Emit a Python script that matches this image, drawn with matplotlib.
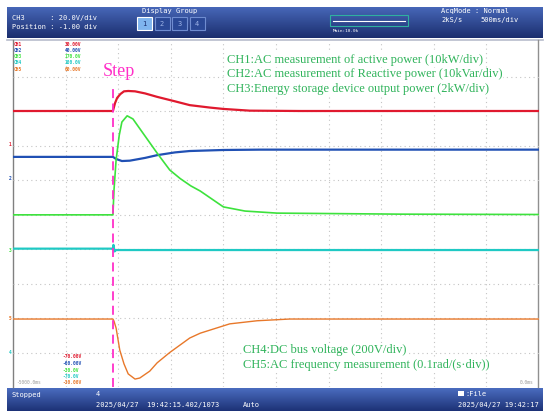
import numpy as np
import matplotlib
matplotlib.use("Agg")
import matplotlib.pyplot as plt
from matplotlib.patches import Rectangle

# time axis: 500 ms/div, 10 div, trigger at right edge
T_MIN, T_MAX = -5000, 0
STEP_T = -4050

# traces, levels in divisions (0 = bottom of screen, 10 = top)
ch1_t = [-5000, -4050, -4030, -4010, -3980, -3945, -3905, -3840, -3745, -3630, -3460, -3320, -3130, -3000, -2750, -2270, 0]
ch1_v = [8.0, 8.0, 8.23, 8.38, 8.49, 8.57, 8.58, 8.57, 8.51, 8.41, 8.28, 8.17, 8.10, 8.06, 8.01, 8.0, 8.0]

ch2_t = [-5000, -4050, -4020, -3965, -3890, -3745, -3630, -3460, -3320, -3000, -2650, 0]
ch2_v = [6.67, 6.67, 6.61, 6.55, 6.56, 6.64, 6.72, 6.80, 6.84, 6.87, 6.88, 6.88]

ch3_t = [-5000, -4050, -4040, -4020, -3990, -3965, -3915, -3860, -3765, -3630, -3510, -3410, -3310, -3220, -3000, -2795, -2490, -1320, 0]
ch3_v = [4.99, 4.99, 5.71, 6.58, 7.30, 7.68, 7.86, 7.77, 7.36, 6.78, 6.29, 6.04, 5.83, 5.68, 5.22, 5.10, 5.04, 5.01, 5.0]

ch4_t = [-5000, -4050, -4045, -4035, -4020, 0]
ch4_v = [4.01, 4.01, 4.12, 3.93, 3.97, 3.97]

ch5_t = [-5000, -4050, -4040, -4020, -3985, -3945, -3905, -3840, -3795, -3700, -3630, -3510, -3320, -3220, -2940, -2680, -2370, 0]
ch5_v = [1.97, 1.97, 1.91, 1.71, 1.07, 0.67, 0.38, 0.23, 0.26, 0.46, 0.70, 1.00, 1.42, 1.56, 1.83, 1.92, 1.97, 1.97]

ch_names = ["CH1", "CH2", "CH3", "CH4", "CH5"]
ch_top = ["30.00V", "40.00V", "170.0V", "100.0V", "60.00V"]
ch_bottom = ["-70.00V", "-60.00V", "-30.0V", "-70.0V", "-30.00V"]
ch_colors = ["#e0192e", "#2050b4", "#3de23d", "#1fc9c4", "#e8782a"]
ch_marker_y = [145, 179, 251, 353, 319]

notes_top = [
    "CH1:AC measurement of active power (10kW/div)",
    "CH2:AC measurement of Reactive power (10kVar/div)",
    "CH3:Energy storage device output power (2kW/div)",
]
notes_bottom = [
    "CH4:DC bus voltage (200V/div)",
    "CH5:AC frequency measurement (0.1rad/(s\u00b7div))",
]

W, H = 550, 418
fig = plt.figure(figsize=(W / 100, H / 100), dpi=100)

# background / frame (pixel coordinates)
bg = fig.add_axes([0, 0, 1, 1])
bg.set_xlim(0, W)
bg.set_ylim(H, 0)
bg.axis("off")


def band(ax, x0, x1, y0, y1, c_top, c_bot):
    grad = np.linspace(0, 1, 64).reshape(-1, 1)
    top = np.array(matplotlib.colors.to_rgb(c_top))
    bot = np.array(matplotlib.colors.to_rgb(c_bot))
    img = top + (bot - top) * grad[:, :, None]
    ax.imshow(img, extent=[x0, x1, y1, y0], aspect="auto", zorder=1)


band(bg, 7, 543, 7, 38, "#4767b8", "#1b2e6e")
band(bg, 7, 543, 388, 411, "#4a6cbf", "#1d3276")
bg.plot([7, 543], [39.5, 39.5], color="#b8bccc", lw=1.2, zorder=2)
bg.plot([13, 13], [40, 387], color="#808080", lw=1.0, zorder=2)
bg.plot([538, 538], [40, 387], color="#909090", lw=1.0, zorder=2)

# plot area
x0, x1, y0, y1 = 13, 539, 42, 387
ax = fig.add_axes([x0 / W, 1 - y1 / H, (x1 - x0) / W, (y1 - y0) / H])
ax.set_facecolor("none")
ax.set_xlim(T_MIN, T_MAX)
ax.set_ylim(0, 10)
for s in ax.spines.values():
    s.set_visible(False)
ax.set_xticks([])
ax.set_yticks([])

dot = (0, (1, 3))
for k in range(1, 10):
    ax.axvline(T_MIN + k * 500, color="#c4c4c4", lw=0.8, ls=dot, zorder=1)
    ax.axhline(k, color="#c4c4c4", lw=0.8, ls=dot, zorder=1)

ax.plot(ch1_t, ch1_v, color=ch_colors[0], lw=1.6, zorder=3)
ax.plot(ch2_t, ch2_v, color=ch_colors[1], lw=1.6, zorder=3)
ax.plot(ch3_t, ch3_v, color=ch_colors[2], lw=1.2, zorder=3)
ax.plot(ch4_t, ch4_v, color=ch_colors[3], lw=1.6, zorder=3)
ax.plot(ch5_t, ch5_v, color=ch_colors[4], lw=1.0, zorder=3)

ax.plot([STEP_T, STEP_T], [0, 8.65], color="#ff2fc8", lw=1.3,
        ls=(0, (5, 3)), zorder=4)

# overlay texts (pixel coordinates)
ov = fig.add_axes([0, 0, 1, 1])
ov.set_facecolor("none")
ov.set_xlim(0, W)
ov.set_ylim(H, 0)
ov.axis("off")

mono = "DejaVu Sans Mono"
wt = "white"
ov.text(12, 18, "CH3      : 20.0V/div", color=wt, fontsize=5, family=mono, va="center")
ov.text(12, 27, "Position : -1.00 div", color=wt, fontsize=5, family=mono, va="center")
ov.text(170, 11, "Display Group", color=wt, fontsize=5, family=mono, va="center", ha="center")
for i in range(4):
    bx = 137 + i * 17.5
    fc = "#7fb4ee" if i == 0 else "#2a4896"
    ec = "white" if i == 0 else "#6f8cd0"
    ov.add_patch(Rectangle((bx, 17), 15, 13, facecolor=fc, edgecolor=ec, lw=0.8))
    ov.text(bx + 7.5, 23.5, str(i + 1), color="#1b2e6e" if i == 0 else "#9fb4e8",
            fontsize=5, family=mono, ha="center", va="center")
ov.add_patch(Rectangle((330, 15), 78, 11, facecolor="none", edgecolor="#2fb0a0", lw=0.8))
ov.plot([333, 405], [20.5, 20.5], color="white", lw=0.8)
ov.text(333, 30.5, "Main:10.0k", color=wt, fontsize=3.2, family=mono, va="center")
ov.text(441, 11, "AcqMode : Normal", color=wt, fontsize=5, family=mono, va="center")
ov.text(441, 20, "2kS/s", color=wt, fontsize=5, family=mono, va="center")
ov.text(480, 20, "500ms/div", color=wt, fontsize=5, family=mono, va="center")

for i in range(5):
    ov.text(14, 44 + i * 6.3, ch_names[i], color=ch_colors[i], fontsize=3.3,
            family=mono, weight="bold", va="center")
    ov.text(65, 44 + i * 6.3, ch_top[i], color=ch_colors[i], fontsize=3.3,
            family=mono, weight="bold", va="center")
    ov.text(62, 357 + i * 6.5, ch_bottom[i], color=ch_colors[i], fontsize=3.3,
            family=mono, weight="bold", va="center")
    ov.text(10, ch_marker_y[i], str(i + 1), color=ch_colors[i], fontsize=3.3,
            family=mono, weight="bold", va="center", ha="center")
ov.text(16, 383, "-5000.0ms", color="#9a9a9a", fontsize=3.3, family=mono, va="center")
ov.text(534, 383, "0.0ms", color="#9a9a9a", fontsize=3.3, family=mono, va="center", ha="right")

ov.text(12, 395, "Stopped", color=wt, fontsize=5, family=mono, va="center")
ov.text(96, 394, "4", color=wt, fontsize=5, family=mono, va="center")
ov.text(96, 405, "2025/04/27  19:42:15.402/1073", color=wt, fontsize=5, family=mono, va="center")
ov.text(243, 405, "Auto", color=wt, fontsize=5, family=mono, va="center")
ov.add_patch(Rectangle((458, 391), 6, 5, facecolor="white", edgecolor="none"))
ov.text(465, 394, ":File", color=wt, fontsize=5, family=mono, va="center")
ov.text(458, 405, "2025/04/27 19:42:17", color=wt, fontsize=5, family=mono, va="center")

serif = "Liberation Serif"
green = "#2fb35a"
for i, s in enumerate(notes_top):
    ov.text(227, 60 + i * 14.4, s, color=green, fontsize=9.0, family=serif, va="center",
            bbox=dict(facecolor="white", edgecolor="none", pad=0.5))
for i, s in enumerate(notes_bottom):
    ov.text(243, 350 + i * 15, s, color=green, fontsize=9.0, family=serif, va="center",
            bbox=dict(facecolor="white", edgecolor="none", pad=0.5))
ov.text(119, 71, "Step", color="#ff2fc8", fontsize=13, family=serif, va="center", ha="center")

fig.savefig("out.png", dpi=100)
